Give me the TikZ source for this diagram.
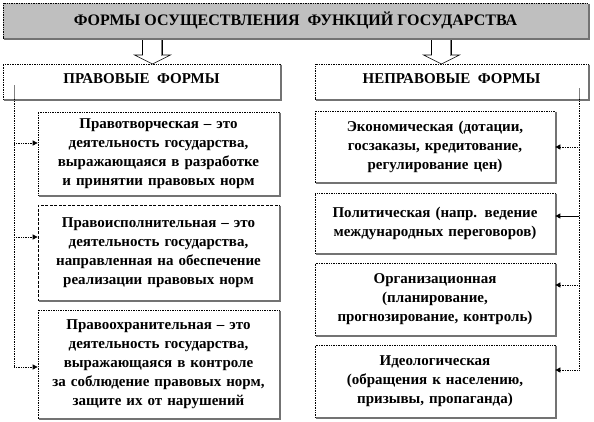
\documentclass[tikz,border=0pt]{standalone}
\usepackage{fontspec}
\setmainfont{Liberation Serif}
\usetikzlibrary{arrows.meta,calc}
\begin{document}
\begin{tikzpicture}[x=1pt,y=-1pt,
  box/.style={draw, densely dotted, line width=0.7pt, fill=white, inner sep=0pt, align=center,
    font=\fontsize{15}{19}\selectfont\bfseries},
  dbox/.style={box, dash pattern=on 3pt off 1.5pt},
  headtxt/.style={box, text height=10pt, text depth=6pt},
  shadowline/.style={draw=black!55, line width=1.3pt, solid},
  conn/.style={densely dotted, line width=0.7pt, -{Triangle[length=5pt,width=5pt]}},
  sconn/.style={solid, line width=0.8pt, -{Triangle[length=5pt,width=5pt]}},
  vline/.style={densely dotted, line width=0.7pt},
  marker/.style={draw=black!50, line width=1.3pt},
  blockarrow/.style={draw=black, line width=0.6pt, fill=white, line join=miter}
]
\useasboundingbox (0,0) rectangle (594,421);

% title
\node[box, fill=black!25, minimum width=585pt, minimum height=35pt,
  font=\fontsize{16}{19}\selectfont\bfseries] (title) at (295.5,20.5)
  {ФОРМЫ ОСУЩЕСТВЛЕНИЯ \ ФУНКЦИЙ ГОСУДАРСТВА};

% heads
\node[headtxt, minimum width=277pt, minimum height=35pt] (pf) at (141.5,81.5) {ПРАВОВЫЕ \ ФОРМЫ};
\node[headtxt, minimum width=273pt, minimum height=35pt] (npf) at (451.5,81.5) {НЕПРАВОВЫЕ \ ФОРМЫ};

% block arrows
\draw[blockarrow] (142.5,38.5) -- (142.5,55) -- (134.5,55) -- (152.5,64) -- (170.5,55) -- (162.5,55) -- (162.5,38.5);
\draw[black!50, line width=1.2pt] (161.6,39) -- (161.6,55.5);
\draw[blockarrow] (431.5,38.5) -- (431.5,55) -- (423.5,55) -- (441.5,64) -- (459.5,55) -- (451.5,55) -- (451.5,38.5);
\draw[black!50, line width=1.2pt] (450.6,39) -- (450.6,55.5);

% left boxes
\node[box, minimum width=241pt, minimum height=83pt, text width=235pt] (l1) at (158.5,153.5)
  {Правотворческая – это\\деятельность государства,\\выражающаяся в разработке\\и принятии правовых норм};
\node[dbox, minimum width=241pt, minimum height=95pt, text width=235pt] (l2) at (158.5,252.5)
  {Правоисполнительная – это\\деятельность государства,\\направленная на обеспечение\\реализации правовых норм};
\node[box, minimum width=241pt, minimum height=108pt, text width=235pt] (l3) at (158.5,364)
  {Правоохранительная – это\\деятельность государства,\\выражающаяся в контроле\\за соблюдение правовых норм,\\защите их от нарушений};

% right boxes
\node[box, minimum width=240pt, minimum height=71pt, text width=234pt] (r1) at (435,146.5)
  {Экономическая (дотации,\\госзаказы, кредитование,\\регулирование цен)};
\node[box, minimum width=240pt, minimum height=60pt, text width=234pt] (r2) at (435,223)
  {Политическая (напр. ведение\\международных переговоров)};
\node[box, minimum width=240pt, minimum height=72pt, text width=234pt] (r3) at (435,299)
  {Организационная\\(планирование,\\прогнозирование, контроль)};
\node[box, minimum width=240pt, minimum height=72pt, text width=234pt] (r4) at (435,381)
  {Идеологическая\\(обращения к населению,\\призывы, пропаганда)};

% shadows
\foreach \n in {title,pf,npf,l1,l2,l3,r1,r2,r3,r4}
  \draw[shadowline] ($(\n.north east)+(0.6,1)$) -- ($(\n.south east)+(0.6,0.6)$) -- ($(\n.south west)+(1,0.6)$);

% left connectors
\coordinate (ls) at ($(pf.south west)+(11.7,0)$);
\draw[marker] ($(ls)+(0,-14)$) -- (ls);
\coordinate (l1in) at ($(l1.west)+(0,-10.5)$);
\coordinate (l2in) at ($(l2.west)+(0,-15.5)$);
\coordinate (l3in) at ($(l3.west)+(0,3)$);
\draw[vline] (ls) -- (ls |- l3in);
\draw[conn] (ls |- l1in) -- (l1in);
\draw[conn] (ls |- l2in) -- (l2in);
\draw[conn] (ls |- l3in) -- (l3in);

% right connectors
\coordinate (rs) at ($(npf.south east)+(-9,0)$);
\draw[marker] ($(rs)+(0,-11)$) -- (rs);
\coordinate (r1in) at ($(r1.east)+(0,0.5)$);
\coordinate (r2in) at ($(r2.east)+(0,-7)$);
\coordinate (r3in) at ($(r3.east)+(0,-14)$);
\coordinate (r4in) at ($(r4.east)+(0,-11)$);
\draw[vline] (rs) -- (rs |- r4in);
\draw[conn] (rs |- r1in) -- (r1in);
\draw[sconn] (rs |- r2in) -- (r2in);
\draw[conn] (rs |- r3in) -- (r3in);
\draw[conn] (rs |- r4in) -- (r4in);
\end{tikzpicture}
\end{document}
